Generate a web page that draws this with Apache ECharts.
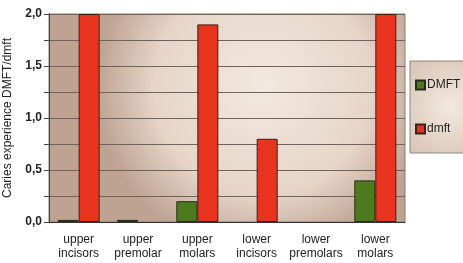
<!DOCTYPE html>
<html>
<head>
<meta charset="utf-8">
<script src="https://cdn.jsdelivr.net/npm/echarts@6/dist/echarts.min.js"></script>
<style>
  html, body { margin: 0; padding: 0; background: #fff; }
  #chart { width: 463px; height: 263px; }
</style>
</head>
<body>
<div id="chart"></div>
<script>
const categories = ["upper\nincisors", "upper\npremolar", "upper\nmolars", "lower\nincisors", "lower\npremolars", "lower\nmolars"];
const dmftPermanent = [0.02, 0.02, 0.2, 0, 0, 0.4];
const dmftPrimary = [2.0, 0, 1.9, 0.8, 0, 2.0];
const seriesNames = ["DMFT", "dmft"];

// zero values draw no bar at all in the original
const noZero = arr => arr.map(v => (v === 0 ? "-" : v));

const chart = echarts.init(document.getElementById("chart"));

const plotBg = {
  type: "radial", x: 0.6, y: 0.35, r: 0.8,
  colorStops: [
    { offset: 0, color: "#f3e9e0" },
    { offset: 0.65, color: "#e6d5c8" },
    { offset: 1, color: "#bea292" }
  ]
};

const option = {
  animation: false,
  textStyle: { fontFamily: "Liberation Sans, Arial, sans-serif" },
  grid: {
    left: 49, right: 58, top: 14, bottom: 41,
    outerBoundsMode: "none",
    show: true,
    backgroundColor: plotBg,
    borderColor: "#8a7a70",
    borderWidth: 1
  },
  legend: {
    orient: "vertical",
    left: 410, top: 61,
    width: 70, height: 99,
    padding: [18, 30, 18, 5],
    itemGap: 32,
    itemWidth: 9, itemHeight: 9,
    icon: "rect",
    backgroundColor: {
      type: "radial", x: 0.5, y: 0.5, r: 0.8,
      colorStops: [
        { offset: 0, color: "#f3e9df" },
        { offset: 1, color: "#d6c1b2" }
      ]
    },
    borderColor: "#8c8680",
    borderWidth: 1,
    textStyle: { fontSize: 12, color: "#222", padding: [0, 0, 0, -3] },
    data: seriesNames
  },
  xAxis: {
    type: "category",
    data: categories,
    axisLine: { lineStyle: { color: "#333" } },
    axisTick: { show: false },
    axisLabel: { interval: 0, fontSize: 12, color: "#222", lineHeight: 14, margin: 11 }
  },
  yAxis: {
    type: "value",
    min: 0, max: 2, interval: 0.25,
    name: "Caries experience DMFT/dmft",
    nameLocation: "middle",
    nameGap: 35,
    nameTextStyle: { fontSize: 12, color: "#222" },
    axisLine: { show: true, lineStyle: { color: "#444" } },
    axisTick: { show: true, length: 5, lineStyle: { color: "#444" } },
    axisLabel: {
      fontSize: 12, color: "#222", fontWeight: "bold", margin: 7,
      formatter: v => (Math.round(v * 100) % 50 === 0 ? v.toFixed(1).replace(".", ",") : "")
    },
    splitLine: { lineStyle: { color: "#6f635b", width: 1 } }
  },
  series: [
    {
      name: seriesNames[0], type: "bar", data: noZero(dmftPermanent),
      barWidth: 21, barGap: "0%",
      itemStyle: { color: "#4e7a1f", borderColor: "#2a2a1a", borderWidth: 1 }
    },
    {
      name: seriesNames[1], type: "bar", data: noZero(dmftPrimary),
      barWidth: 21,
      itemStyle: { color: "#e8341f", borderColor: "#3a2018", borderWidth: 1 }
    }
  ]
};

chart.setOption(option);
</script>
</body>
</html>
